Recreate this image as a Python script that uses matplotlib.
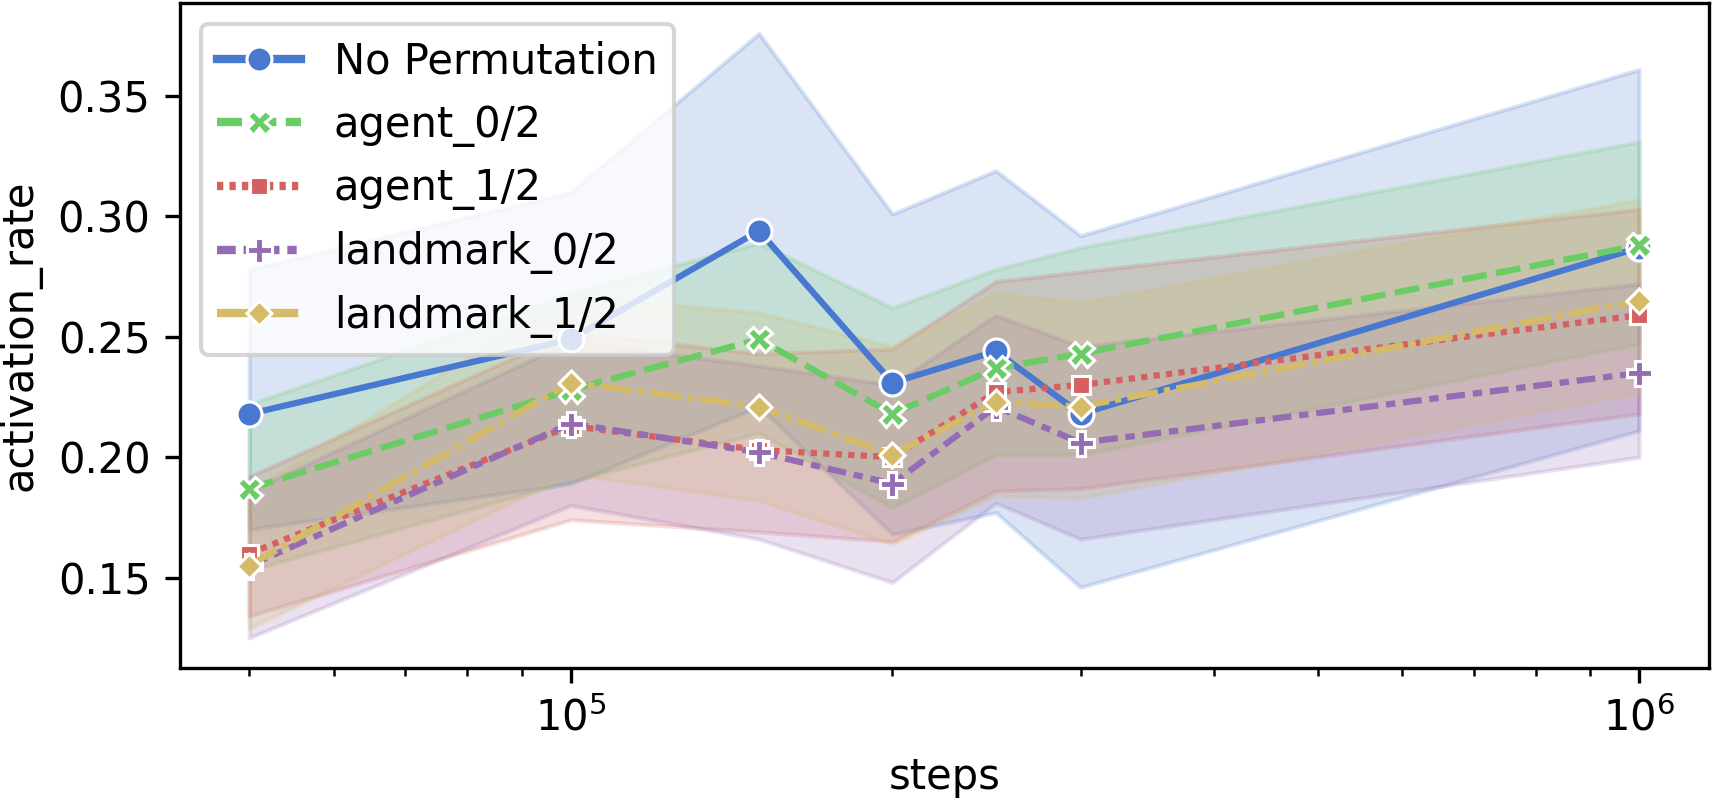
import numpy as np
import matplotlib
matplotlib.use("Agg")
import matplotlib.pyplot as plt

# training steps (log x axis)
steps = [5e4, 1e5, 1.5e5, 2e5, 2.5e5, 3e5, 1e6]

labels = ["No Permutation", "agent_0/2", "agent_1/2", "landmark_0/2", "landmark_1/2"]

# mean activation rate per series
mean_noperm = [0.218, 0.249, 0.294, 0.231, 0.244, 0.218, 0.287]
mean_agent0 = [0.187, 0.228, 0.249, 0.218, 0.237, 0.243, 0.288]
mean_agent1 = [0.160, 0.213, 0.203, 0.200, 0.227, 0.230, 0.259]
mean_land0 = [0.155, 0.214, 0.202, 0.189, 0.221, 0.206, 0.235]
mean_land1 = [0.155, 0.231, 0.221, 0.201, 0.223, 0.221, 0.265]

# confidence band, lower / upper
lo_noperm = [0.170, 0.189, 0.221, 0.168, 0.177, 0.146, 0.211]
hi_noperm = [0.278, 0.310, 0.376, 0.301, 0.319, 0.292, 0.361]
lo_agent0 = [0.153, 0.190, 0.210, 0.179, 0.201, 0.201, 0.247]
hi_agent0 = [0.222, 0.268, 0.289, 0.262, 0.278, 0.287, 0.331]
lo_agent1 = [0.134, 0.174, 0.169, 0.165, 0.186, 0.187, 0.218]
hi_agent1 = [0.192, 0.252, 0.243, 0.245, 0.273, 0.277, 0.303]
lo_land0 = [0.125, 0.180, 0.166, 0.148, 0.181, 0.166, 0.200]
hi_land0 = [0.186, 0.248, 0.238, 0.230, 0.259, 0.246, 0.272]
lo_land1 = [0.129, 0.193, 0.182, 0.164, 0.184, 0.183, 0.227]
hi_land1 = [0.186, 0.267, 0.260, 0.246, 0.268, 0.264, 0.307]

means = [mean_noperm, mean_agent0, mean_agent1, mean_land0, mean_land1]
lows = [lo_noperm, lo_agent0, lo_agent1, lo_land0, lo_land1]
highs = [hi_noperm, hi_agent0, hi_agent1, hi_land0, hi_land1]

colors = ["#4878d0", "#6acc64", "#d65f5f", "#956cb4", "#d5bb67"]
dashes = [None, (4, 1.5), (1, 1), (3, 1.25, 1.5, 1.25), (5, 1, 1, 1)]
markers = ["o", "X", (4, 0, 45), "P", (4, 0, 0)]

fig, ax = plt.subplots(figsize=(1712 / 300, 801 / 300), dpi=300)
fig.subplots_adjust(left=0.105, right=0.998, top=0.996, bottom=0.166)

for i in range(len(labels)):
    line, = ax.plot(steps, means[i], color=colors[i], lw=1.5, marker=markers[i],
                    markeredgecolor="w", markeredgewidth=0.75, label=labels[i])
    if dashes[i] is not None:
        line.set_dashes(dashes[i])
    ax.fill_between(steps, lows[i], highs[i], color=colors[i], alpha=0.2)

ax.set_xscale("log")
ax.set_xlabel("steps")
ax.set_ylabel("activation_rate")
ax.set_yticks([0.15, 0.20, 0.25, 0.30, 0.35])
leg = ax.legend(loc="upper left")

# legend handles drawn a bit thicker, same dash lengths
for h, d in zip(leg.legend_handles, dashes):
    h.set_linewidth(2)
    if d is not None:
        h.set_dashes([v * 0.75 for v in d])

fig.savefig("out.png", dpi=300)
